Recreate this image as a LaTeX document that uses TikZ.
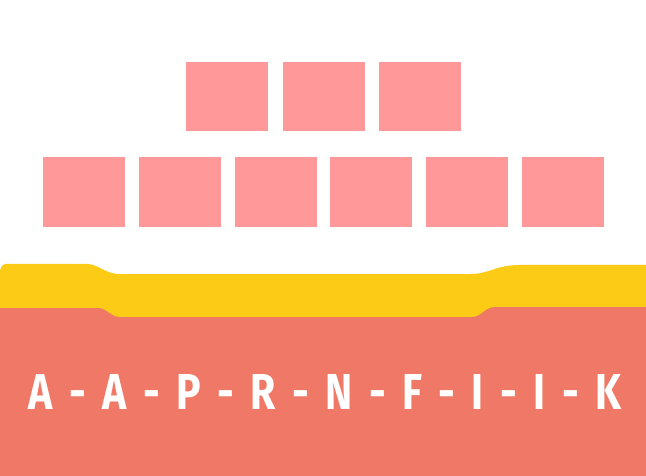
\documentclass[tikz,border=0pt]{standalone}
\usepackage{graphicx}
\usepackage{fontspec}
\usepackage{tikz}
\usetikzlibrary{positioning}
\usepackage{xcolor}
\newfontfamily\codefont{Fira Sans}[WordSpace=1.7]
\definecolor{boxpink}{HTML}{FF9999}
\definecolor{bandyellow}{HTML}{FBCB16}
\definecolor{basesalmon}{HTML}{F07867}

\begin{document}
\begin{tikzpicture}[x=1pt, y=-1pt,
  box/.style={rectangle, fill=boxpink, minimum width=82pt, minimum height=69.5pt, inner sep=0pt, outer sep=0pt},
  code/.style={text=white, inner sep=0pt, font=\codefont\bfseries}]
  \useasboundingbox (0,0) rectangle (646,476);

  % Bands
  \fill[bandyellow] (0,330) -- (0,272) to[out=90,in=180] (6,264) -- (88,264)
    .. controls (100,265) and (105,274) .. (120,274) -- (470,274)
    .. controls (490,274) and (495,265) .. (520,265) -- (646,265) -- (646,330) -- cycle;
  \fill[basesalmon] (0,476) -- (0,308) -- (99,308)
    .. controls (108,309) and (110,317) .. (120,317) -- (472,317)
    .. controls (482,317) and (484,307) .. (496,307) -- (646,307) -- (646,476) -- cycle;

  % Define nodes
  \node[box]                     (top1) at (227,96.75) {};
  \node[box, right=14.5pt of top1] (top2) {};
  \node[box, right=14.5pt of top2] (top3) {};
  \node[box]                     (row1) at (84,192) {};
  \node[box, right=13.8pt of row1] (row2) {};
  \node[box, right=13.8pt of row2] (row3) {};
  \node[box, right=13.8pt of row3] (row4) {};
  \node[box, right=13.8pt of row4] (row5) {};
  \node[box, right=13.8pt of row5] (row6) {};

  % Label
  \node[code] (word) at (325,391.5) {\resizebox{592pt}{35pt}{A - A - P - R - N - F - I - I - K}};

\end{tikzpicture}
\end{document}
